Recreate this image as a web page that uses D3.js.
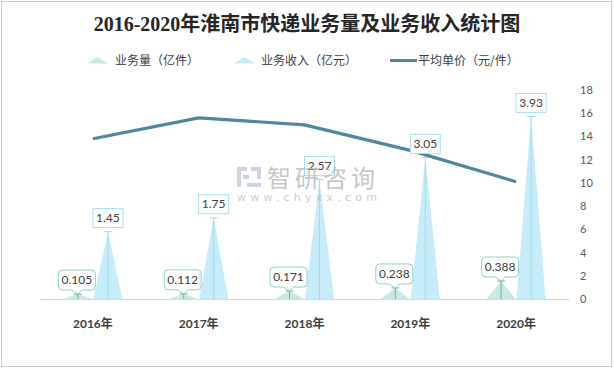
<!DOCTYPE html>
<html><head><meta charset="utf-8">
<script src="https://cdn.jsdelivr.net/npm/d3@7"></script>
<style>body{margin:0;background:#fff}svg{display:block}</style>
</head><body>
<svg id="c" width="614" height="369"></svg>
<script>
const years = ["2016年","2017年","2018年","2019年","2020年"];
const volume = [0.105, 0.112, 0.171, 0.238, 0.388];
const income = [1.45, 1.75, 2.57, 3.05, 3.93];
const price = [13.8, 15.6, 15.0, 12.8, 10.1];
const rightTicks = [0,2,4,6,8,10,12,14,16,18];
const title = "2016-2020年淮南市快递业务量及业务收入统计图";
const legendNames = ["业务量（亿件）","业务收入（亿元）","平均单价（元/件）"];

const svg = d3.select("#c");
svg.append("rect").attr("x",1.5).attr("y",1.5).attr("width",610).attr("height",365)
  .attr("fill","#fff").attr("stroke","#c8c8c8");

const x = d3.scaleBand().domain(years).range([40,569]);
const xs = d3.scaleBand().domain(["vol","inc"]).range([-30,30]);
const yL = d3.scaleLinear().domain([0,4.5]).range([299,90]);
const yR = d3.scaleLinear().domain([0,18]).range([299,90]);

svg.append("text").attr("x",307).attr("y",31).attr("text-anchor","middle")
  .attr("font-family","Liberation Serif, 'Noto Sans CJK SC'").attr("font-weight","bold")
  .attr("font-size",20).attr("fill","#262626").text(title);

// legend
const lg = svg.append("g").attr("font-family","'Noto Sans CJK SC'").attr("font-size",12).attr("fill","#404040");
lg.append("path").attr("d","M87,63.5 L97.5,57 L108,63.5 Z").attr("fill","#c8e8e2");
lg.append("text").attr("x",115).attr("y",65).text(legendNames[0]);
lg.append("path").attr("d","M234,63.5 L244.5,57 L255,63.5 Z").attr("fill","#c6ecf9");
lg.append("text").attr("x",261).attr("y",65).text(legendNames[1]);
lg.append("line").attr("x1",390).attr("x2",417).attr("y1",60.5).attr("y2",60.5).attr("stroke","#4f87a1").attr("stroke-width",3);
lg.append("text").attr("x",418).attr("y",65).text(legendNames[2]);

// axes
const gx = svg.append("g").attr("transform","translate(0,299)")
  .call(d3.axisBottom(x).tickSize(0).tickPadding(20));
gx.select(".domain").attr("stroke","#d9d9d9");
gx.selectAll("text").attr("font-family","Lato, 'Noto Sans CJK SC'").attr("font-weight","bold")
  .attr("font-size",12).attr("fill","#404040");

const gr = svg.append("g").attr("transform","translate(569,0)")
  .call(d3.axisRight(yR).tickValues(rightTicks).tickSize(0).tickPadding(11));
gr.select(".domain").remove();
gr.selectAll("text").attr("font-family","Lato, sans-serif").attr("font-size",11).attr("fill","#595959");

const tw = 29;
function tri(cx, v){
  const t = yL(v);
  return `M${cx-tw/2},${yL(0)} L${cx},${t} L${cx+tw/2},${yL(0)} Z`;
}
const series = [
  {key:"vol", vals:volume, fill:"#c8e8e2", stem:"#5db8a6"},
  {key:"inc", vals:income, fill:"#c6ecf9", stem:"#9fdcf1"}
];
series.forEach(s=>{
  const g = svg.append("g");
  s.vals.forEach((v,i)=>{
    const cx = x(years[i]) + x.bandwidth()/2 + xs(s.key) + xs.bandwidth()/2;
    g.append("path").attr("d",tri(cx,v)).attr("fill",s.fill);
    g.append("line").attr("x1",cx).attr("x2",cx).attr("y1",yL(0)).attr("y2",yL(v)).attr("stroke",s.stem).attr("stroke-width",1);
    g.append("line").attr("x1",cx-4).attr("x2",cx+4).attr("y1",yL(v)).attr("y2",yL(v)).attr("stroke",s.stem).attr("stroke-width",1);
  });
});

// line
svg.append("path").datum(price)
  .attr("d", d3.line().x((d,i)=>x(years[i])+x.bandwidth()/2).y(d=>yR(d)))
  .attr("fill","none").attr("stroke","#4f87a1").attr("stroke-width",3.2).attr("stroke-linejoin","round");

// labels
const lf = "Lato, sans-serif";
income.forEach((v,i)=>{
  const cx = x(years[i]) + x.bandwidth()/2 + xs("inc") + xs.bandwidth()/2;
  const t = yL(v);
  const w = 30, h = 19;
  svg.append("rect").attr("x",cx-w/2).attr("y",t-4-h).attr("width",w).attr("height",h)
    .attr("fill","#fff").attr("stroke","#a9dff2");
  svg.append("text").attr("x",cx).attr("y",t-4-h/2+4).attr("text-anchor","middle")
    .attr("font-family",lf).attr("font-size",12).attr("fill","#404040").text(v.toFixed(2));
});
volume.forEach((v,i)=>{
  const cx = x(years[i]) + x.bandwidth()/2 + xs("vol") + xs.bandwidth()/2;
  const t = yL(v);
  const w = 37, h = 20, r = 4;
  const b = t-4, top = b-h, l = cx-w/2-1, rr = cx+w/2-1;
  const p = `M${l+r},${top} H${rr-r} Q${rr},${top} ${rr},${top+r} V${b-r} Q${rr},${b} ${rr-r},${b}
    H${cx+4} L${cx},${t} L${cx-6},${b} H${l+r} Q${l},${b} ${l},${b-r} V${top+r} Q${l},${top} ${l+r},${top} Z`;
  svg.append("path").attr("d",p).attr("fill","#fff").attr("stroke","#8dd3c4");
  svg.append("text").attr("x",cx-1).attr("y",top+h/2+4).attr("text-anchor","middle")
    .attr("font-family",lf).attr("font-size",12).attr("fill","#404040").text(v.toFixed(3));
});

// watermark
const wm = svg.append("g").attr("opacity",0.7);
wm.append("rect").attr("x",237).attr("y",167).attr("width",10).attr("height",4).attr("fill","#b8c4da");
wm.append("rect").attr("x",237).attr("y",167).attr("width",4).attr("height",20).attr("fill","#b8c4da");
wm.append("rect").attr("x",243).attr("y",175).attr("width",6).attr("height",4).attr("fill","#b8c4da");
wm.append("rect").attr("x",251).attr("y",167).attr("width",10).attr("height",4).attr("fill","#b8c4da");
wm.append("rect").attr("x",257).attr("y",167).attr("width",4).attr("height",12).attr("fill","#b8c4da");
wm.append("rect").attr("x",247).attr("y",183).attr("width",14).attr("height",4).attr("fill","#b8c4da");
wm.append("text").attr("x",267).attr("y",187).attr("font-family","'Noto Sans CJK SC'").attr("font-size",24)
  .attr("letter-spacing",4).attr("fill","#b0b0b0").text("智研咨询");
wm.append("text").attr("x",237).attr("y",201).attr("font-family","'DejaVu Sans'").attr("font-size",11)
  .attr("textLength",140).attr("fill","#b8b8b8").text("www.chyxx.com");
</script>
</body></html>
